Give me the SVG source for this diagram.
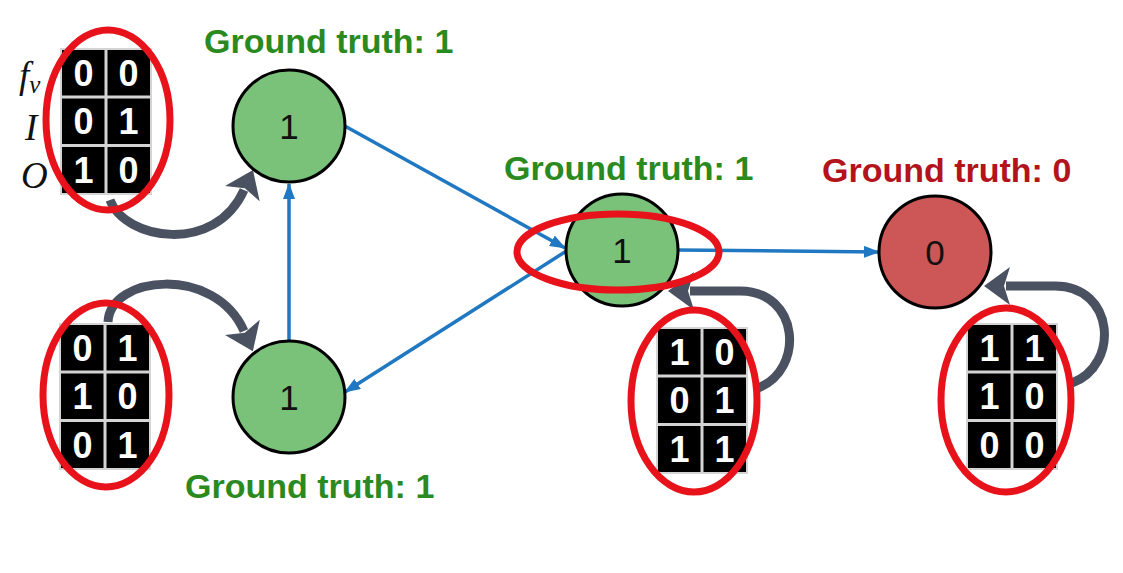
<svg xmlns="http://www.w3.org/2000/svg" width="1123" height="573" viewBox="0 0 1123 573">
<style>
.gt{font-family:"Liberation Sans",Arial,sans-serif;font-weight:bold;font-size:34px}
.green{fill:#2a8a20}
.red{fill:#b3131b}
.node{stroke:#000;stroke-width:3}
.nlab{font-family:"Liberation Sans",Arial,sans-serif;font-size:35px;fill:#111;text-anchor:middle}
.blue{stroke:#1f78c1;stroke-width:3.5;fill:none;marker-end:url(#ab)}
.grey{stroke:#4a5261;stroke-width:9;fill:none;marker-end:url(#ag)}
.hl{fill:none;stroke:#e8121b;stroke-width:7}
.tbl{fill:#000;stroke:#d4d4d4;stroke-width:2}
.sep{stroke:#d4d4d4;stroke-width:3}
.dg{font-family:"Liberation Sans",Arial,sans-serif;font-weight:bold;font-size:36px;fill:#fff;text-anchor:middle}
.rl{font-family:"Liberation Serif","Times New Roman",serif;font-style:italic;font-size:37px;fill:#111}
</style>
<defs>
<marker id="ab" markerUnits="userSpaceOnUse" markerWidth="16" markerHeight="12" refX="15" refY="6" orient="auto">
<path d="M0,0 L16,6 L0,12 z" fill="#1f78c1"/>
</marker>
<marker id="ag" markerUnits="userSpaceOnUse" markerWidth="28" markerHeight="38" refX="4" refY="19" orient="auto">
<path d="M0,0 L26,19 L0,38 L6,19 z" fill="#4a5261"/>
</marker>
<g id="table-shape">
<rect class="tbl" x="0" y="0" width="90" height="145"/>
<line class="sep" x1="45" y1="0" x2="45" y2="145"/>
<line class="sep" x1="0" y1="48" x2="90" y2="48"/>
<line class="sep" x1="0" y1="96.5" x2="90" y2="96.5"/>
</g>
</defs>
<rect width="1123" height="573" fill="#fff"/>

<g id="connectors">
<path class="blue" d="M343,125 L565,248"/>
<path class="blue" d="M289,340 L289,184"/>
<path class="blue" d="M568,250 L345,392"/>
<path class="blue" d="M677,250 L879,252"/>
<path class="grey" d="M110,200 C125,240 215,255 244,190"/>
<path class="grey" d="M108,322 C110,275 215,265 244,331"/>
<path class="grey" d="M758,388 C805,370 800,291 740,291 L690,291"/>
<path class="grey" d="M1072,383 C1120,365 1115,286 1055,286 L1006,286"/>
</g>

<g id="node-a">
<circle class="node" cx="289" cy="126" r="56" fill="#7ac17a"/>
<text class="nlab" x="289" y="139">1</text>
<text class="gt green" x="204" y="53">Ground truth: 1</text>
</g>
<g id="node-b">
<circle class="node" cx="289" cy="397" r="56" fill="#7ac17a"/>
<text class="nlab" x="289" y="410">1</text>
<text class="gt green" x="185" y="498">Ground truth: 1</text>
</g>
<g id="node-c">
<circle class="node" cx="622" cy="250" r="56" fill="#7ac17a"/>
<text class="nlab" x="622" y="263">1</text>
<text class="gt green" x="504" y="180">Ground truth: 1</text>
</g>
<g id="node-d">
<circle class="node" cx="935" cy="252" r="56" fill="#cd5656"/>
<text class="nlab" x="935" y="265">0</text>
<text class="gt red" x="822" y="182">Ground truth: 0</text>
</g>

<g id="row-labels">
<text class="rl" x="19" y="88">f<tspan font-size="25" dy="5">v</tspan></text>
<text class="rl" x="25" y="140">I</text>
<text class="rl" x="21" y="188">O</text>
</g>

<g id="table-a" transform="translate(61,49)">
<use href="#table-shape"/>
<text class="dg" x="22.5" y="37">0</text><text class="dg" x="67.5" y="37">0</text>
<text class="dg" x="22.5" y="85">0</text><text class="dg" x="67.5" y="85">1</text>
<text class="dg" x="22.5" y="134">1</text><text class="dg" x="67.5" y="134">0</text>
</g>
<g id="table-b" transform="translate(60,324)">
<use href="#table-shape"/>
<text class="dg" x="22.5" y="37">0</text><text class="dg" x="67.5" y="37">1</text>
<text class="dg" x="22.5" y="85">1</text><text class="dg" x="67.5" y="85">0</text>
<text class="dg" x="22.5" y="134">0</text><text class="dg" x="67.5" y="134">1</text>
</g>
<g id="table-c" transform="translate(657,328)">
<use href="#table-shape"/>
<text class="dg" x="22.5" y="37">1</text><text class="dg" x="67.5" y="37">0</text>
<text class="dg" x="22.5" y="85">0</text><text class="dg" x="67.5" y="85">1</text>
<text class="dg" x="22.5" y="134">1</text><text class="dg" x="67.5" y="134">1</text>
</g>
<g id="table-d" transform="translate(967,324)">
<use href="#table-shape"/>
<text class="dg" x="22.5" y="37">1</text><text class="dg" x="67.5" y="37">1</text>
<text class="dg" x="22.5" y="85">1</text><text class="dg" x="67.5" y="85">0</text>
<text class="dg" x="22.5" y="134">0</text><text class="dg" x="67.5" y="134">0</text>
</g>

<g id="highlights">
<ellipse class="hl" cx="108" cy="120" rx="62" ry="90"/>
<ellipse class="hl" cx="106" cy="395" rx="63" ry="92"/>
<ellipse class="hl" cx="694" cy="401" rx="63" ry="91"/>
<ellipse class="hl" cx="1006" cy="400" rx="65" ry="92"/>
<ellipse class="hl" cx="618" cy="252" rx="101" ry="38"/>
</g>
</svg>
